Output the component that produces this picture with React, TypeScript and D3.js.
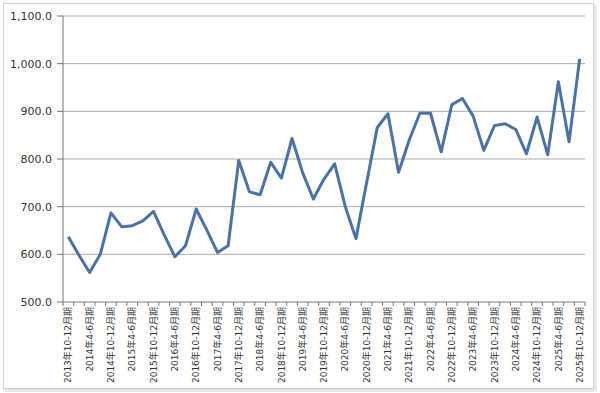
import React from 'react';
import * as d3 from 'd3';

const W = 600;
const H = 393;

const categories = [
  '2013年10-12月期',
  '2014年1-3月期', '2014年4-6月期', '2014年7-9月期', '2014年10-12月期',
  '2015年1-3月期', '2015年4-6月期', '2015年7-9月期', '2015年10-12月期',
  '2016年1-3月期', '2016年4-6月期', '2016年7-9月期', '2016年10-12月期',
  '2017年1-3月期', '2017年4-6月期', '2017年7-9月期', '2017年10-12月期',
  '2018年1-3月期', '2018年4-6月期', '2018年7-9月期', '2018年10-12月期',
  '2019年1-3月期', '2019年4-6月期', '2019年7-9月期', '2019年10-12月期',
  '2020年1-3月期', '2020年4-6月期', '2020年7-9月期', '2020年10-12月期',
  '2021年1-3月期', '2021年4-6月期', '2021年7-9月期', '2021年10-12月期',
  '2022年1-3月期', '2022年4-6月期', '2022年7-9月期', '2022年10-12月期',
  '2023年1-3月期', '2023年4-6月期', '2023年7-9月期', '2023年10-12月期',
  '2024年1-3月期', '2024年4-6月期', '2024年7-9月期', '2024年10-12月期',
  '2025年1-3月期', '2025年4-6月期', '2025年7-9月期', '2025年10-12月期',
];

const values = [
  637,
  598, 562, 600, 687,
  658, 660, 670, 690,
  641, 595, 618, 695,
  651, 604, 618, 797,
  731, 725, 793, 760,
  843, 771, 716, 758,
  790, 700, 633, 750,
  866, 895, 772, 840,
  896, 896, 815, 914,
  927, 890, 818, 870,
  874, 862, 811, 888,
  809, 962, 836, 1010,
];

const yTicks = [500, 600, 700, 800, 900, 1000, 1100];

const margin = { left: 63, right: 15, top: 16, bottom: 91 };

export default function App() {
  const x = d3.scaleBand<string>()
    .domain(categories)
    .range([margin.left, W - margin.right]);
  const y = d3.scaleLinear()
    .domain([500, 1100])
    .range([H - margin.bottom, margin.top]);

  const line = d3.line<number>()
    .x((_, i) => x(categories[i])! + x.bandwidth() / 2)
    .y(d => y(d));

  const fmt = d3.format(',.1f');
  const x0 = margin.left;
  const x1 = W - margin.right;
  const yBase = y(500);
  const bounds = categories.map(c => x(c)!).concat([x1]);

  return (
    <svg width={W} height={H} style={{ position: 'absolute', left: 0, top: 0, background: '#fff' }}
      fontFamily="Verdana, 'DejaVu Sans', 'Noto Sans CJK JP', sans-serif">
      {/* frame with a light shadow */}
      <rect x={5} y={5} width={592} height={387} fill="#e9e9e9" />
      <rect x={3.5} y={3.5} width={590} height={385} fill="#fff" stroke="#cfcfcf" />

      {/* gridlines */}
      {yTicks.filter(t => t > 500).map(t => (
        <line key={t} x1={x0} x2={x1} y1={y(t)} y2={y(t)} stroke="#ababab" strokeWidth={1} />
      ))}

      {/* y axis */}
      <line x1={x0} x2={x0} y1={y(1100)} y2={yBase} stroke="#777" />
      {yTicks.map(t => (
        <g key={t}>
          <line x1={x0 - 6} x2={x0} y1={y(t)} y2={y(t)} stroke="#777" />
          <text x={52} y={y(t)} dy="0.35em" textAnchor="end" fontSize={11} fill="#333">{fmt(t)}</text>
        </g>
      ))}

      {/* x axis */}
      <line x1={x0} x2={x1} y1={yBase} y2={yBase} stroke="#777" />
      {bounds.map((b, i) => (
        <line key={i} x1={b} x2={b} y1={yBase} y2={yBase + 4} stroke="#777" />
      ))}
      {categories.map((c, i) => i % 2 === 0 ? (
        <text key={c} transform={`translate(${x(c)! + x.bandwidth() / 2},${yBase + 5}) rotate(-90)`}
          textAnchor="end" dy="0.35em" fontSize={9} fill="#333">{c}</text>
      ) : null)}

      {/* series */}
      <path d={line(values)!} fill="none" stroke="#4a72a6" strokeWidth={3} strokeLinejoin="round" />
    </svg>
  );
}
